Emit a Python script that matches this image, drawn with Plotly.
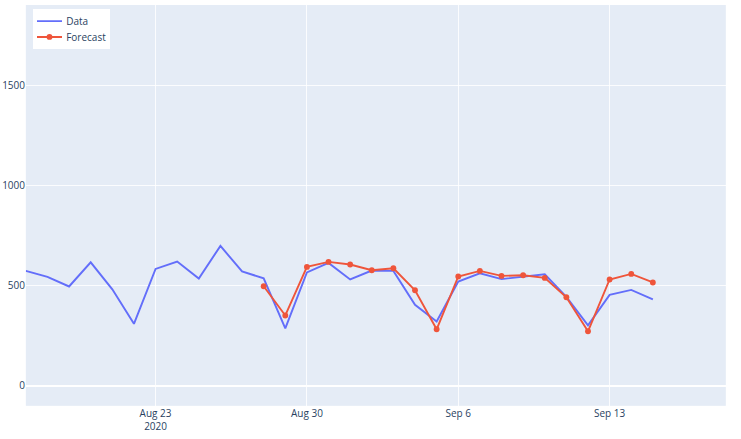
import plotly.graph_objects as go
import pandas as pd

data_dates = pd.date_range("2020-08-17", "2020-09-15", freq="D")
data_values = [575, 545, 497, 618, 483, 310, 585, 622, 537, 700,
               572, 538, 287, 567, 615, 532, 577, 575, 405, 322,
               522, 563, 534, 547, 558, 445, 303, 455, 480, 433]

fc_dates = pd.date_range("2020-08-28", "2020-09-15", freq="D")
fc_values = [498, 352, 595, 620, 607, 578, 588, 478, 283, 547,
             575, 550, 553, 540, 443, 273, 532, 560, 517]

S = 1.2  # the reference looks like a default-size figure shown at 1/1.2 scale

fig = go.Figure()
fig.add_trace(go.Scatter(x=data_dates, y=data_values, mode="lines", name="Data",
                         line=dict(color="#636efa", width=2.3)))
fig.add_trace(go.Scatter(x=fc_dates, y=fc_values, mode="lines+markers", name="Forecast",
                         line=dict(color="#EF553B", width=2.3), marker=dict(size=7)))

fig.update_layout(
    template="plotly",
    width=round(741 * S), height=round(439 * S),
    font=dict(family="Open Sans, verdana, arial, sans-serif", size=12),
    margin=dict(l=26 * S, r=15 * S, t=5 * S, b=33 * S, autoexpand=False),
    legend=dict(x=0.01, y=0.99, xanchor="left", yanchor="top", bgcolor="white"),
    showlegend=True,
)
fig.update_xaxes(range=["2020-08-17", "2020-09-18 09:00"], automargin=False)
fig.update_yaxes(range=[-100, 1905], automargin=False)
fig.write_html("out.html", config={"displayModeBar": False},
               post_script="document.body.style.margin='0';document.body.style.overflow='hidden';"
                           "document.body.style.zoom='" + str(1 / S) + "';")
